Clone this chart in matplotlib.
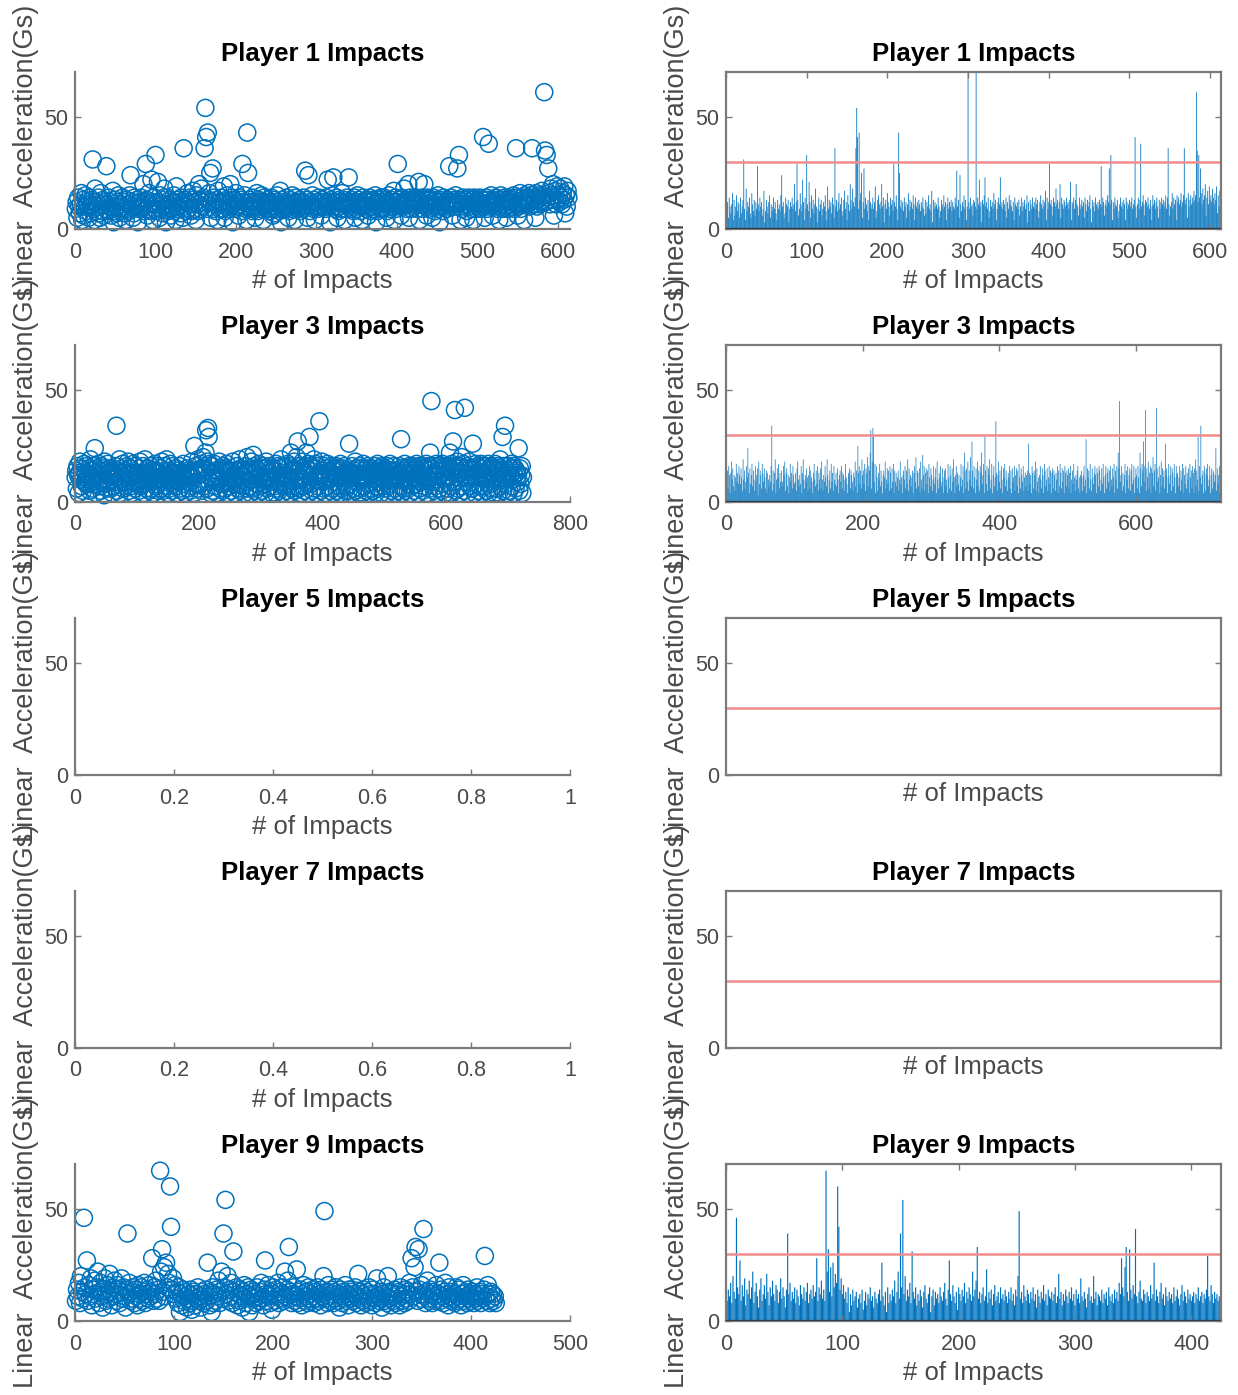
import numpy as np
import matplotlib
matplotlib.use("Agg")
import matplotlib.pyplot as plt

plt.rcParams["font.family"] = ["Liberation Sans", "DejaVu Sans"]

# =========================
# DATOS (G lineales por impacto)
# =========================
PLAYER1_G = """
9 12 5 14 10 7 11 16 4 13 6 10 15 8 12 11 5 14 7 10
13 31 9 4 18 8 12 10 14 7 5 16 11 8 13 6 12 9 28 11
8 14 10 12 6 9 17 3 8 13 10 7 12 15 5 11 8 10 14 9
12 7 4 13 9 11 8 15 24 10 12 5 7 14 11 10 13 3 9 12
10 14 9 11 20 8 12 29 13 6 9 16 11 8 22 12 4 14 9 33
11 8 21 12 5 15 9 13 7 11 18 10 3 9 14 8 11 13 6 9
12 10 15 8 4 19 9 13 10 12 7 14 11 5 36 10 13 8 12 16
9 11 14 6 8 13 17 9 12 4 15 11 8 20 13 9 18 12 10 14
36 54 41 9 43 13 16 25 5 12 27 9 14 11 8 13 4 17 12 9
11 14 9 12 19 5 8 13 15 11 9 12 20 10 14 3 11 13 9 16
12 10 6 14 11 13 8 29 12 10 15 9 4 43 25 10 13 9 12 8
14 10 12 5 11 16 8 13 10 12 9 15 11 4 14 10 12 9 13 11
8 12 10 14 9 6 13 7 12 10 15 9 11 8 17 3 13 9 12 10
11 9 14 10 5 8 13 11 9 15 10 12 4 11 14 9 12 10 13 8
12 10 9 14 11 26 10 13 5 24 11 8 12 10 15 9 13 4 10 82
12 9 14 10 11 6 13 12 10 95 9 14 11 22 10 12 3 13 11 15
23 10 12 9 14 5 8 13 10 12 9 16 11 13 4 9 12 14 11 23
10 12 9 13 11 8 14 5 12 9 15 11 13 10 8 12 4 14 11 10
12 9 13 6 10 14 8 12 10 13 9 11 15 3 12 8 13 11 9 14
10 12 9 14 11 13 5 8 12 15 11 9 13 10 12 17 4 14 9 12
29 11 13 10 6 14 12 10 18 11 13 9 12 20 5 14 11 9 13 12
10 14 11 12 9 13 21 4 12 11 14 9 13 20 11 10 6 14 9 11
13 10 12 5 14 11 8 13 10 12 15 9 3 13 10 12 8 14 11 10
12 9 13 11 28 10 14 12 6 11 13 10 15 12 27 11 33 13 4 12
9 14 11 10 13 5 8 11 14 10 12 9 13 11 4 14 12 9 11 13
10 12 14 9 11 13 41 10 5 11 14 9 13 38 10 12 15 11 6 13
12 10 14 11 9 13 4 10 15 11 13 9 12 14 10 5 13 9 12 14
11 13 10 12 15 9 14 36 11 6 10 12 16 9 14 11 13 4 15 12
14 11 13 16 10 12 15 36 13 11 14 5 16 10 13 15 11 14 12 17
13 15 61 35 12 33 14 27 16 11 18 13 15 20 6 14 17 11 19 13
15 12 18 14 11 16 13 19 7 15 10 17 14
"""

PLAYER3_G = """
11 14 6 16 12 4 13 18 10 15 7 12 5 11 17 9 13 8 16 12
8 15 11 5 19 10 14 6 9 16 11 24 13 4 15 8 12 17 7 14
10 5 16 9 12 15 3 18 8 14 12 6 17 13 9 15 11 6 14 4
13 10 7 12 9 16 34 5 14 8 13 19 4 10 15 11 17 6 13 9
14 7 9 16 12 18 5 13 15 7 12 4 11 17 9 13 6 16 12 8
9 13 5 15 18 10 7 12 8 16 4 13 19 10 6 12 9 15 11 5
12 16 6 14 11 9 4 13 17 10 7 14 8 16 5 13 10 15 6 18
10 5 12 9 16 11 7 19 12 4 10 14 6 17 9 13 5 16 10 8
13 7 15 10 4 12 14 9 16 6 13 12 5 10 17 11 8 4 13 12
15 6 14 12 9 5 13 11 18 7 14 4 25 13 16 8 14 6 19 12
14 8 17 5 15 13 20 7 16 14 22 32 6 18 33 29 9 17 4 16
11 5 13 10 17 7 14 9 4 12 14 11 18 6 10 15 8 14 5 16
13 6 15 9 17 4 14 9 13 7 11 14 5 10 18 8 11 4 12 14
10 16 6 14 8 19 5 15 10 12 7 11 14 4 13 16 9 20 6 14
13 7 15 4 18 10 6 21 12 16 5 13 15 8 14 4 17 11 7 15
12 5 10 16 8 11 15 4 18 10 6 13 11 16 7 9 15 4 11 14
15 7 10 4 17 11 6 16 12 5 15 9 19 11 4 12 16 7 13 8
12 5 11 17 7 10 16 4 22 14 6 15 9 18 5 14 10 20 7 27
14 6 16 11 4 15 10 18 7 14 5 16 13 22 8 12 17 4 29 14
8 16 5 15 12 19 6 10 17 4 12 16 7 11 36 13 5 12 18 9
14 6 16 10 4 15 11 17 7 14 10 5 13 11 16 6 14 4 15 9
11 16 5 12 15 7 14 4 17 11 6 15 12 9 16 5 11 13 7 12
14 5 26 13 8 12 4 16 13 6 14 12 18 5 15 9 11 4 12 16
10 6 15 12 4 17 14 7 10 15 5 11 16 8 14 4 13 15 6 14
12 5 13 10 16 4 14 7 17 13 6 15 9 14 4 16 13 7 14 12
15 6 13 16 4 10 14 8 17 11 5 12 10 14 16 6 11 4 12 14
11 5 12 16 7 10 28 4 15 11 14 6 17 10 5 15 11 8 13 16
12 4 15 13 7 16 14 5 10 15 8 17 11 4 12 16 6 13 15 9
14 5 16 10 7 15 11 17 4 14 10 16 6 22 15 45 9 12 16 5
13 7 12 17 4 14 10 16 6 12 15 5 14 17 8 10 16 4 11 15
12 6 16 11 4 22 15 7 17 14 27 9 16 41 5 15 11 18 6 13
16 4 15 13 20 7 14 17 5 42 15 9 11 16 4 12 18 7 15 11
14 6 26 12 15 4 11 17 8 12 16 5 15 13 7 17 11 4 16 12
13 7 11 16 5 14 10 17 4 15 12 8 16 6 13 10 15 4 17 11
14 6 16 13 4 15 19 7 14 10 29 5 16 11 34 8 12 14 4 16
13 5 15 12 17 7 10 16 4 12 15 6 14 13 9 12 24 5 15 8
12 16 4 11
"""

PLAYER9_G = """
9 14 11 17 8 20 13 10 46 15 12 27 9 16 11 19 7 14 12 18
10 15 22 8 13 17 11 6 14 19 9 12 16 10 21 13 7 15 11 18
12 9 16 14 8 13 19 10 15 11 6 14 39 12 17 9 13 10 15 8
14 11 7 16 12 10 15 9 13 17 8 12 14 10 16 11 13 28 9 15
12 18 10 14 9 67 22 32 13 24 11 26 15 21 17 60 42 14 19 12
16 10 13 8 15 4 12 7 14 9 11 13 6 10 12 8 14 5 9 13
7 12 10 15 9 11 6 13 10 8 12 14 9 26 11 7 13 4 15 8
12 9 14 11 18 8 13 22 10 39 15 54 12 20 9 14 11 17 8 31
13 10 15 7 12 9 14 11 6 13 16 10 8 12 15 4 11 14 7 13
10 12 8 15 11 9 13 17 10 7 14 27 12 9 16 11 8 13 5 15
12 9 14 11 17 8 13 10 15 12 9 22 11 14 18 33 10 13 8 12
15 9 11 23 8 13 10 14 7 12 16 9 11 13 8 15 10 12 9 14
11 8 13 10 15 9 12 7 14 11 20 49 10 13 8 16 11 9 14 12
8 13 10 15 9 12 6 14 11 8 13 10 16 9 12 7 14 11 10 13
9 12 15 8 11 21 10 13 7 12 9 14 11 8 13 10 15 9 12 7
14 10 12 8 19 11 9 13 10 6 12 15 9 11 8 20 10 13 7 12
11 9 14 8 12 10 13 7 15 11 9 12 8 14 10 13 9 17 12 28
15 11 24 33 13 9 32 14 10 16 12 41 11 8 13 18 10 9 14 12
8 13 11 9 16 10 12 26 9 14 11 8 13 17 10 12 7 15 11 9
13 10 12 8 15 9 11 14 10 7 12 16 9 13 11 8 14 10 12 9
11 13 8 12 10 15 9 11 13 8 12 10 14 29 11 9 16 12 8 13
10 12 9 11 8
"""

player1 = np.array(PLAYER1_G.split(), dtype=float)
player3 = np.array(PLAYER3_G.split(), dtype=float)
player5 = np.array([], dtype=float)
player7 = np.array([], dtype=float)
player9 = np.array(PLAYER9_G.split(), dtype=float)

titles = ["Player 1 Impacts", "Player 3 Impacts", "Player 5 Impacts",
          "Player 7 Impacts", "Player 9 Impacts"]
impacts = [player1, player3, player5, player7, player9]

# limites del eje x de los scatter (auto de MATLAB)
scatter_xmax = [615, 800, 1, 1, 500]
scatter_xticks = [
    [0, 100, 200, 300, 400, 500, 600],
    [0, 200, 400, 600, 800],
    [0, 0.2, 0.4, 0.6, 0.8, 1],
    [0, 0.2, 0.4, 0.6, 0.8, 1],
    [0, 100, 200, 300, 400, 500],
]
bar_xticks = [
    [0, 100, 200, 300, 400, 500, 600],
    [0, 200, 400, 600],
    [],
    [],
    [0, 100, 200, 300, 400],
]
THRESHOLD = 30
YMAX = 70

BLUE = "#0072BD"
AXCOL = "#7a7a7a"
TXTCOL = "#4a4a4a"


def fmt(v):
    return f"{v:g}"


def style_axes(ax, box):
    for side in ["left", "bottom", "top", "right"]:
        ax.spines[side].set_color(AXCOL)
        ax.spines[side].set_linewidth(1.6)
    if not box:
        ax.spines["top"].set_visible(False)
        ax.spines["right"].set_visible(False)
    ax.tick_params(direction="in", length=4, width=1, colors=AXCOL,
                   labelcolor=TXTCOL, labelsize=15.5, top=box, right=box)
    ax.tick_params(axis="x", pad=9)
    ax.tick_params(axis="y", pad=5)
    ax.set_ylim(0, YMAX)
    ax.set_yticks([0, 50])
    ax.set_xlabel("# of Impacts", fontsize=18.5, color=TXTCOL, labelpad=5)
    ax.set_ylabel("Linear  Acceleration(Gs)", fontsize=19.5, color=TXTCOL)
    ax.yaxis.set_label_coords(-0.072, 0.5)
    ax.set_title(ax.get_title(), fontsize=18.5, fontweight="bold", pad=8)


fig = plt.figure(figsize=(12.38, 13.95), dpi=100)
W, H = 1238.0, 1395.0

for r in range(5):
    top = 72 + r * 273
    h = 157
    y0 = 1 - (top + h) / H
    y = impacts[r]
    x = np.arange(1, len(y) + 1)

    # ---- izquierda: scatter (como MATLAB: solo se pintan puntos dentro del rango) ----
    axl = fig.add_axes([75 / W, y0, 495 / W, h / H])
    if len(y) > 0:
        inside = y <= YMAX
        axl.scatter(x[inside], y[inside], s=150, facecolors="none",
                    edgecolors=BLUE, linewidths=1.1, clip_on=False)
    axl.set_xlim(0, scatter_xmax[r])
    axl.set_xticks(scatter_xticks[r])
    axl.set_xticklabels([fmt(t) for t in scatter_xticks[r]])
    axl.set_title(titles[r])
    style_axes(axl, box=False)

    # ---- derecha: barras + umbral ----
    axr = fig.add_axes([726 / W, y0, 495 / W, h / H])
    if len(y) > 0:
        axr.bar(x, y, width=1.0, color=BLUE, linewidth=0, snap=False)
        axr.axhline(0, color="#2e3b48", lw=1.6, zorder=3)
        axr.set_xlim(0, len(y) + 0.5)
    else:
        axr.set_xlim(0, 1)
    axr.axhline(THRESHOLD, color="#f28c8c", lw=1.8)
    axr.set_xticks(bar_xticks[r])
    axr.set_xticklabels([fmt(t) for t in bar_xticks[r]])
    axr.set_title(titles[r])
    style_axes(axr, box=True)

fig.savefig("out.png", dpi=100)
